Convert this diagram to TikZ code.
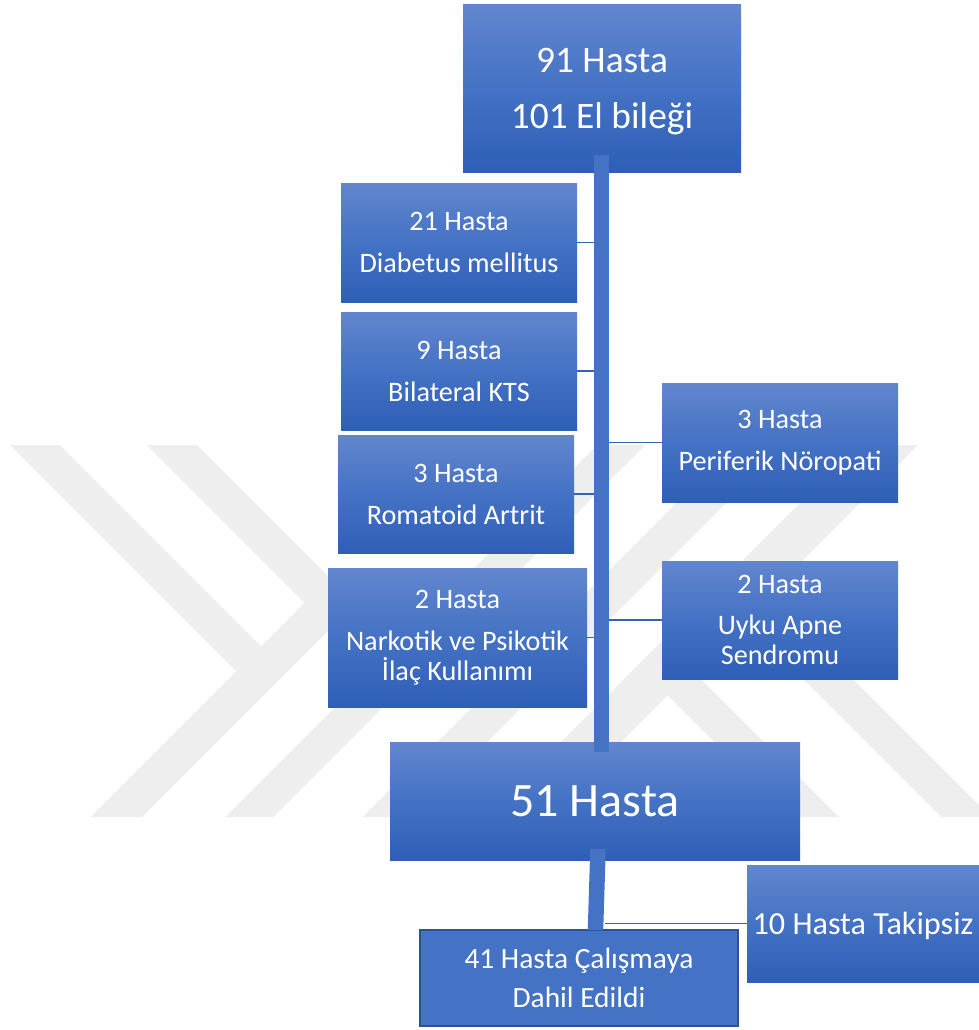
\documentclass[tikz,border=0pt]{standalone}
\usepackage{fontspec}
\setmainfont{Carlito}
\definecolor{wm}{HTML}{EEEEEE}
\definecolor{boxtop}{HTML}{6286CE}
\definecolor{boxmid}{HTML}{4472C4}
\definecolor{boxbot}{HTML}{2F5EB7}
\definecolor{connc}{HTML}{3A62AE}
\definecolor{edgeinc}{HTML}{2F528F}
\newcommand\fsTop{\fontsize{37.4}{44}\selectfont}
\newcommand\fsSm{\fontsize{28.2}{30}\selectfont}
\newcommand\fsBig{\fontsize{48}{56}\selectfont}
\newcommand\fsTak{\fontsize{32.2}{36}\selectfont}
\newcommand\fsInc{\fontsize{29.4}{39}\selectfont}
\tikzset{
  gbox/.style={rectangle, inner sep=0pt, top color=boxtop, bottom color=boxbot, middle color=boxmid, text=white, align=center},
  incbox/.style={rectangle, inner sep=0pt, fill=boxmid, draw=edgeinc, line width=2pt, text=white, align=center},
  trunkbar/.style={rectangle, inner sep=0pt, fill=boxmid},
  thinconn/.style={draw=connc, line width=1.4pt},
  wmark/.style={fill=wm},
}
\begin{document}
\begin{tikzpicture}[x=1pt,y=-1pt]
\useasboundingbox (0,0) rectangle (979,1030);
% watermark
\begin{scope}
\clip (0,0) rectangle (979,1030);
\fill[wmark] (10,445) -- (60,445) -- (261,646) -- (236,671) -- cycle;
\fill[wmark] (90,817) -- (142,817) -- (330.5,628.5) -- (304.5,602.5) -- cycle;
\fill[wmark] (147,445) -- (197,445) -- (397,645) -- (372,670) -- cycle;
\fill[wmark] (225,817) -- (273,817) -- (645,445) -- (597,445) -- cycle;
\fill[wmark] (362,817) -- (412,817) -- (784,445) -- (734,445) -- cycle;
\fill[wmark] (486,817) -- (546,817) -- (918,445) -- (858,445) -- cycle;
\fill[wmark] (667.5,695.5) -- (692.5,670.5) -- (839,817) -- (789,817) -- cycle;
\fill[wmark] (743.5,619.5) -- (768.5,594.5) -- (991,817) -- (941,817) -- cycle;
\end{scope}
% boxes
\node[gbox, minimum width=278pt, minimum height=167pt, font=\fsTop, text depth=0pt] (top) at (602,88.5) {91 Hasta\\[12pt]101 El bileği};
\node[gbox, minimum width=236pt, minimum height=119pt, font=\fsSm] (dm) at (459,242.5) {21 Hasta\\[12pt]Diabetus mellitus};
\node[gbox, minimum width=236pt, minimum height=118pt, font=\fsSm] (kts) at (459,371) {9 Hasta\\[12pt]Bilateral KTS};
\node[gbox, minimum width=236pt, minimum height=118pt, font=\fsSm] (ra) at (456,494) {3 Hasta\\[12pt]Romatoid Artrit};
\node[gbox, minimum width=259pt, minimum height=139pt, font=\fsSm] (nk) at (457.5,637.5) {2 Hasta\\[12pt]Narkotik ve Psikotik\\İlaç Kullanımı};
\node[gbox, minimum width=236pt, minimum height=119pt, font=\fsSm] (pn) at (780,442.5) {3 Hasta\\[12pt]Periferik Nöropati};
\node[gbox, minimum width=236pt, minimum height=118pt, font=\fsSm] (ua) at (780,620) {2 Hasta\\[11pt]Uyku Apne\\Sendromu};
\node[gbox, minimum width=410pt, minimum height=118pt, font=\fsBig] (h51) at (595,801) {51 Hasta};
\node[gbox, minimum width=232pt, minimum height=117pt, font=\fsTak, text depth=0pt] (tak) at (863,923.5) {10 Hasta Takipsiz};
\node[incbox, minimum width=318pt, minimum height=96pt, font=\fsInc] (inc) at (579,978) {41 Hasta Çalışmaya\\Dahil Edildi};
% trunks
\node[trunkbar, minimum width=15pt, minimum height=597pt] (trunk) at (601.5,453.5) {};
\node[trunkbar, minimum width=15.5pt, minimum height=81pt, rotate=-1.8] (trunk2) at (596.75,889.5) {};
% connectors
\draw[thinconn] (dm.east) -- (dm.east -| trunk.west);
\draw[thinconn] (kts.east) -- (kts.east -| trunk.west);
\draw[thinconn] (ra.east) -- (ra.east -| trunk.west);
\draw[thinconn] (nk.east) -- (nk.east -| trunk.west);
\draw[thinconn] (pn.west) -- (pn.west -| trunk.east);
\draw[thinconn] (ua.west) -- (ua.west -| trunk.east);
\draw[thinconn] (tak.west) -- (tak.west -| trunk2.east);
\end{tikzpicture}
\end{document}
